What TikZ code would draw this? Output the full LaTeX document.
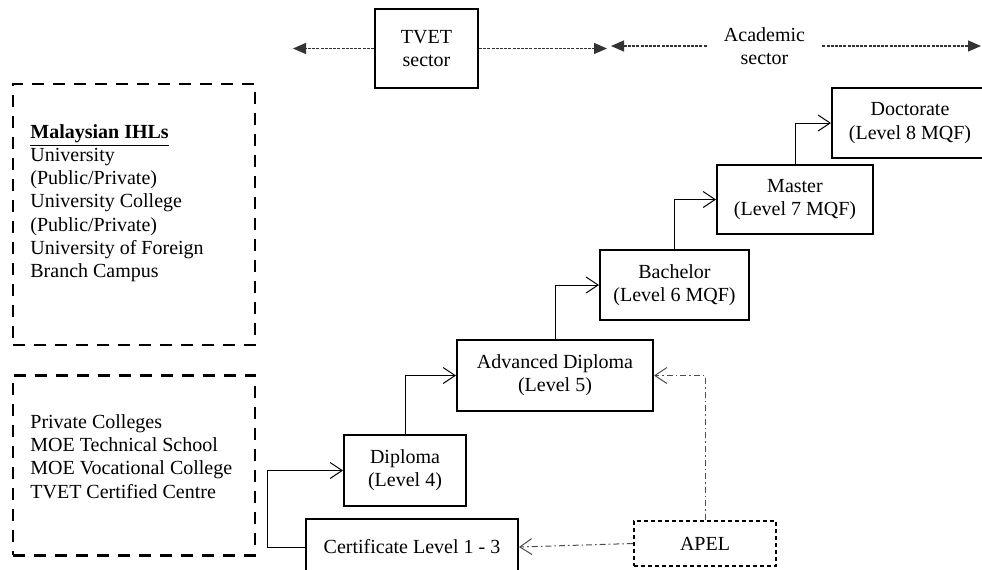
\documentclass[tikz,border=0pt]{standalone}
\usepackage{fontspec}
\setmainfont{Liberation Serif}
\usetikzlibrary{positioning,arrows.meta}
\newcommand\lvlfont{\fontsize{10}{11.6}\selectfont}

\begin{document}
\begin{tikzpicture}[x=0.5pt,y=-0.5pt,
      level/.style={rectangle,draw,line width=1pt,align=center,font=\lvlfont},
      inst/.style={rectangle,draw,line width=1.2pt,dash pattern=on 6pt off 4.5pt,
                   minimum width=121pt},
      insttxt/.style={font=\lvlfont,align=left,anchor=west,inner sep=0pt},
      sect/.style={line width=0.6pt,black!80,dash pattern=on 1.5pt off 0.6pt,
                   -{Triangle[length=6.5pt,width=5.5pt]}},
      upline/.style={line width=0.5pt,-{Straight Barb[length=6pt,width=8pt]}},
      apelline/.style={line width=0.5pt,black!70,dash pattern=on 3pt off 1.5pt on 0.8pt off 1.5pt,
                       -{Straight Barb[length=6pt,width=8pt]}}]
    \useasboundingbox (0,0) rectangle (982,569);
    % sectors
    \node[level,minimum width=51.5pt,minimum height=39.5pt] (tvet) at (426.5,48.5) {TVET\\sector};
    \node[font=\lvlfont,align=center,minimum width=57.5pt] (acad) at (764.5,46) {Academic\\sector};
    \coordinate (tvetend) at (293,48.5);
    \coordinate (tvetmid) at (607,48.5);
    \coordinate (acadmid) at (611,46);
    \coordinate (acadend) at (981,46);
    \draw[sect] (tvet.west) -- (tvetend);
    \draw[sect] (tvet.east) -- (tvetmid);
    \draw[sect] (acad.west) -- (acadmid);
    \draw[sect] (acad.east) -- (acadend);
    % institutions
    \node[inst,minimum height=130.5pt] (ihl) at (134,214.5) {};
    \node[insttxt] (ihltxt) at (30,203) {\underline{\textbf{Malaysian IHLs}}\\University\\(Public/Private)\\University College\\(Public/Private)\\University of Foreign\\Branch Campus};
    \node[inst,minimum height=90pt,below=14pt of ihl] (tvetinst) {};
    \node[insttxt] (tvettxt) at (30,456.5) {Private Colleges\\MOE Technical School\\MOE Vocational College\\TVET Certified Centre};
    % levels
    \node[level,minimum width=106pt,minimum height=28pt] (cert) at (412,547) {Certificate Level 1 - 3};
    \node[level,minimum width=61pt,minimum height=35.5pt] (dip) at (405,470.5) {Diploma\\(Level 4)};
    \node[level,minimum width=98pt,minimum height=35.5pt] (adv) at (555,375.5) {Advanced Diploma\\(Level 5)};
    \node[level,minimum width=74.5pt,minimum height=35pt] (bach) at (674.5,285) {Bachelor\\(Level 6 MQF)};
    \node[level,minimum width=78pt,minimum height=34.5pt] (mas) at (795,199.5) {Master\\(Level 7 MQF)};
    \node[level,minimum width=78pt,minimum height=35pt] (doc) at (910,123) {Doctorate\\(Level 8 MQF)};
    \node[level,line width=1.1pt,dash pattern=on 2.2pt off 1.3pt,minimum width=71pt,minimum height=22.5pt] (apel) at (705,543.5) {APEL};
    % progression
    \draw[upline] (cert.west) -- ++(-38,0) |- (dip.west);
    \draw[upline] (dip.north) |- (adv.west);
    \draw[upline] (adv.north) |- (bach.west);
    \draw[upline] (bach.north) |- (mas.west);
    \draw[upline] (mas.north) |- (doc.west);
    \draw[apelline] (apel.west) -- (cert.east);
    \draw[apelline] (apel.north) |- (adv.east);
\end{tikzpicture}
\end{document}
